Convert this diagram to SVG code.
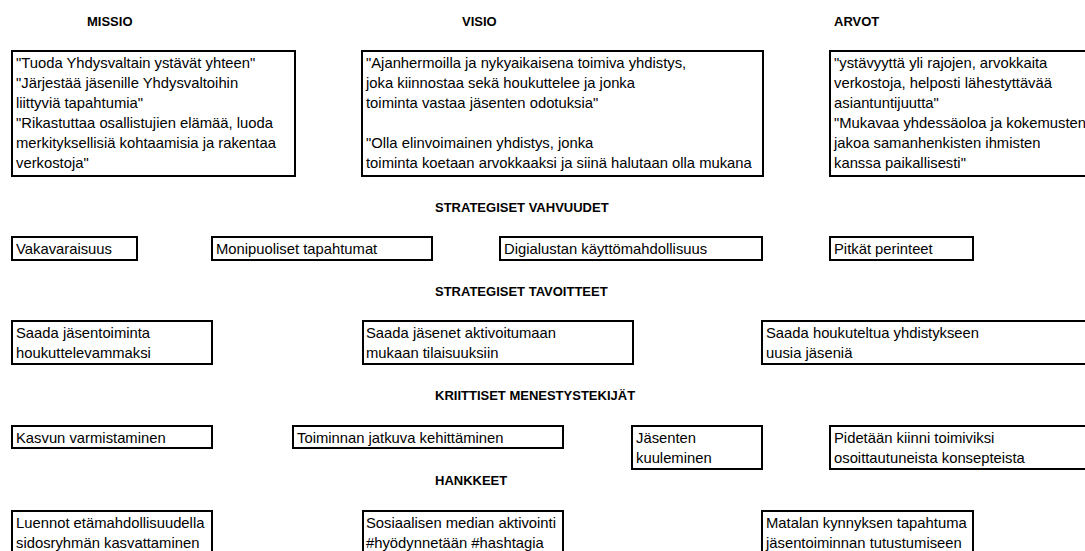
<svg xmlns="http://www.w3.org/2000/svg" width="1085" height="551" viewBox="0 0 1085 551">
<style>
.box{fill:#fff;stroke:#000;stroke-width:2}
.t{font-family:"Liberation Sans",Arial,sans-serif;font-size:14.8px;fill:#000}
.h{font-family:"Liberation Sans",Arial,sans-serif;font-size:13px;font-weight:bold;fill:#000}
</style>
<rect x="0" y="0" width="1085" height="551" fill="#fff"/>
<g id="headers">
<text class="h" x="87" y="26">MISSIO</text>
<text class="h" x="462" y="26">VISIO</text>
<text class="h" x="834" y="26">ARVOT</text>
<text class="h" x="435" y="212">STRATEGISET VAHVUUDET</text>
<text class="h" x="435" y="296">STRATEGISET TAVOITTEET</text>
<text class="h" x="435" y="400">KRIITTISET MENESTYSTEKIJÄT</text>
<text class="h" x="435" y="485">HANKKEET</text>
</g>
<g id="missio">
<rect class="box" x="12" y="51" width="283" height="125"/>
<text class="t"><tspan x="16" y="68">"Tuoda Yhdysvaltain ystävät yhteen"</tspan><tspan x="16" y="88">"Järjestää jäsenille Yhdysvaltoihin</tspan><tspan x="16" y="108">liittyviä tapahtumia"</tspan><tspan x="16" y="128">"Rikastuttaa osallistujien elämää, luoda</tspan><tspan x="16" y="148">merkityksellisiä kohtaamisia ja rakentaa</tspan><tspan x="16" y="168">verkostoja"</tspan></text>
</g>
<g id="visio">
<rect class="box" x="362" y="51" width="401" height="125"/>
<text class="t"><tspan x="366" y="68">"Ajanhermoilla ja nykyaikaisena toimiva yhdistys,</tspan><tspan x="366" y="88">joka kiinnostaa sekä houkuttelee ja jonka</tspan><tspan x="366" y="108">toiminta vastaa jäsenten odotuksia"</tspan><tspan x="366" y="148">"Olla elinvoimainen yhdistys, jonka</tspan><tspan x="366" y="168">toiminta koetaan arvokkaaksi ja siinä halutaan olla mukana</tspan></text>
</g>
<g id="arvot">
<rect class="box" x="830" y="51" width="270" height="125"/>
<text class="t"><tspan x="834" y="68">"ystävyyttä yli rajojen, arvokkaita</tspan><tspan x="834" y="88">verkostoja, helposti lähestyttävää</tspan><tspan x="834" y="108">asiantuntijuutta"</tspan><tspan x="834" y="128">"Mukavaa yhdessäoloa ja kokemusten</tspan><tspan x="834" y="148">jakoa samanhenkisten ihmisten</tspan><tspan x="834" y="168">kanssa paikallisesti"</tspan></text>
</g>
<g id="vakavaraisuus">
<rect class="box" x="12" y="237" width="125" height="23"/>
<text class="t" x="16" y="254">Vakavaraisuus</text>
</g>
<g id="monipuoliset">
<rect class="box" x="212" y="237" width="220" height="23"/>
<text class="t" x="216" y="254">Monipuoliset tapahtumat</text>
</g>
<g id="digialusta">
<rect class="box" x="500" y="237" width="262" height="23"/>
<text class="t" x="504" y="254">Digialustan käyttömahdollisuus</text>
</g>
<g id="perinteet">
<rect class="box" x="830" y="237" width="143" height="23"/>
<text class="t" x="834" y="254">Pitkät perinteet</text>
</g>
<g id="tavoite1">
<rect class="box" x="12" y="321" width="200" height="43"/>
<text class="t"><tspan x="16" y="338">Saada jäsentoiminta</tspan><tspan x="16" y="358">houkuttelevammaksi</tspan></text>
</g>
<g id="tavoite2">
<rect class="box" x="363" y="321" width="270" height="43"/>
<text class="t"><tspan x="366" y="338">Saada jäsenet aktivoitumaan</tspan><tspan x="366" y="358">mukaan tilaisuuksiin</tspan></text>
</g>
<g id="tavoite3">
<rect class="box" x="762" y="321" width="340" height="43"/>
<text class="t"><tspan x="766" y="338">Saada houkuteltua yhdistykseen</tspan><tspan x="766" y="358">uusia jäseniä</tspan></text>
</g>
<g id="kasvu">
<rect class="box" x="12" y="426" width="200" height="22"/>
<text class="t" x="16" y="443">Kasvun varmistaminen</text>
</g>
<g id="kehittaminen">
<rect class="box" x="293" y="426" width="270" height="22"/>
<text class="t" x="297" y="443">Toiminnan jatkuva kehittäminen</text>
</g>
<g id="kuuleminen">
<rect class="box" x="632" y="426" width="130" height="43"/>
<text class="t"><tspan x="636" y="443">Jäsenten</tspan><tspan x="636" y="463">kuuleminen</tspan></text>
</g>
<g id="konseptit">
<rect class="box" x="830" y="426" width="270" height="43"/>
<text class="t"><tspan x="834" y="443">Pidetään kiinni toimiviksi</tspan><tspan x="834" y="463">osoittautuneista konsepteista</tspan></text>
</g>
<g id="luennot">
<rect class="box" x="12" y="511" width="200" height="50"/>
<text class="t"><tspan x="16" y="528">Luennot etämahdollisuudella</tspan><tspan x="16" y="548">sidosryhmän kasvattaminen</tspan></text>
</g>
<g id="some">
<rect class="box" x="363" y="511" width="200" height="50"/>
<text class="t"><tspan x="366" y="528">Sosiaalisen median aktivointi</tspan><tspan x="366" y="548">#hyödynnetään #hashtagia</tspan></text>
</g>
<g id="matala">
<rect class="box" x="762" y="511" width="211" height="50"/>
<text class="t"><tspan x="766" y="528">Matalan kynnyksen tapahtuma</tspan><tspan x="766" y="548">jäsentoiminnan tutustumiseen</tspan></text>
</g>
<g id="connectors"/>
</svg>
